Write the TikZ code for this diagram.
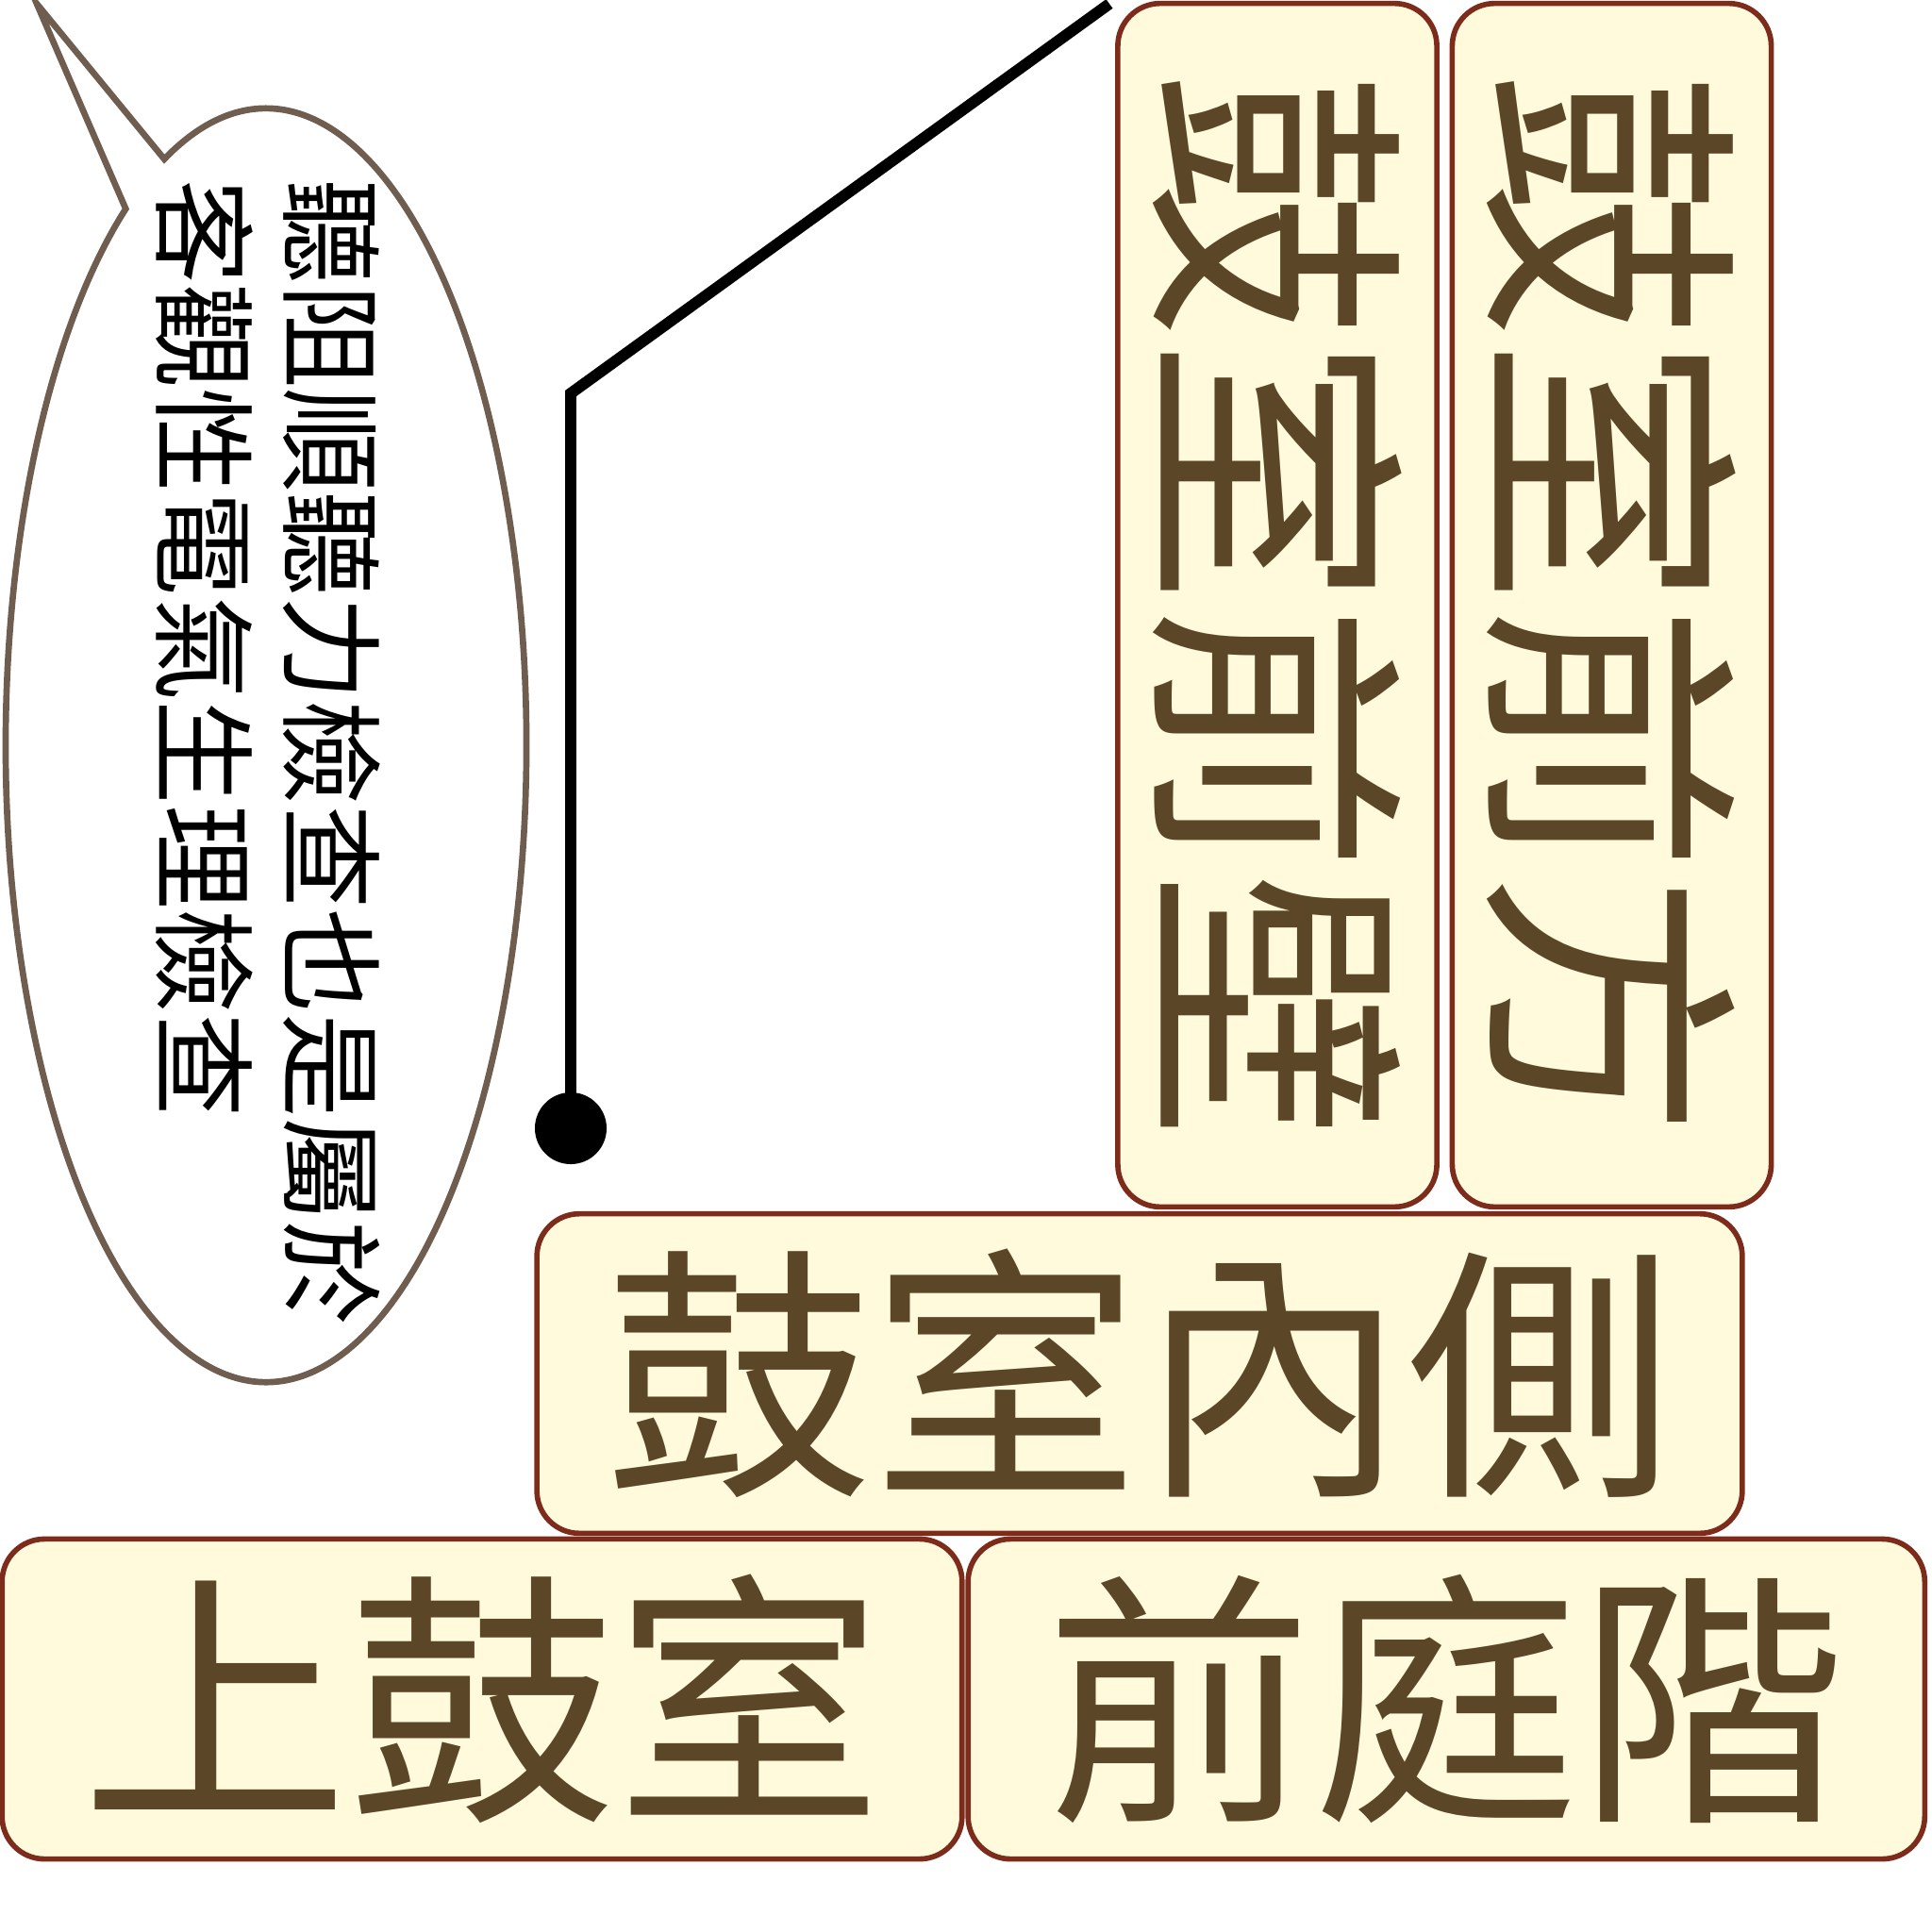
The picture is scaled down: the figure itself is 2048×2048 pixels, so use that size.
\documentclass[tikz,border=0pt]{standalone}
\usepackage{fontspec}
\newfontfamily\cjk{Noto Sans CJK TC}
\definecolor{boxfill}{HTML}{FFFADC}
\definecolor{boxline}{HTML}{7D2B1B}
\definecolor{boxtext}{HTML}{5C4628}
\definecolor{bubline}{HTML}{6F5D50}
\begin{document}
\begin{tikzpicture}[x=0.01cm,y=-0.01cm,
  box/.style={draw=boxline, fill=boxfill, line width=1.6pt, rounded corners=0.45cm,
    inner sep=0pt, text=boxtext, font=\cjk\fontsize{80.5}{81}\selectfont},
  bubtext/.style={rotate=-90, anchor=west, inner sep=0pt, text=black,
    font=\cjk\fontsize{31.4}{38}\selectfont},
  leader/.style={line width=3.4pt, draw=black}
]
\useasboundingbox (0,0) rectangle (2048,2048);

% speech bubble
\coordinate (tip) at (39,4);
\draw[draw=bubline, line width=1.9pt, fill=white]
  (tip) -- ([shift={(282,790)}]-113:276 and 675)
  arc[start angle=-113, end angle=237.4, x radius=276, y radius=675] -- cycle;
\node[bubtext] (bubA) at (352,190) {聽阻順聽力檢查也是屬於};
\node[bubtext] (bubB) at (217,190) {客觀性電氣生理檢查};

% boxes
\node[box, minimum width=10.17cm, minimum height=3.39cm] (upper) at (511,1801) {上鼓室};
\node[box, minimum width=10.135cm, minimum height=3.39cm] (vest) at (1533.25,1801) {前庭階};
\node[box, minimum width=12.77cm, minimum height=3.385cm] (medial) at (1208,1456) {鼓室內側};
\node[box, rotate=-90, minimum width=12.75cm, minimum height=3.38cm] (wall) at (1354,641.5) {鼓室前壁};
\node[box, rotate=-90, minimum width=12.75cm, minimum height=3.38cm] (ant) at (1708.5,641.5) {鼓室前方};

% leader line with dot
\coordinate (lineEnd) at (1176,4);
\node[circle, fill=black, minimum size=0.76cm, inner sep=0pt] (dot) at (605,1196) {};
\coordinate (bend) at (605,417);
\draw[leader] (lineEnd) -- (bend) -- (dot.center);
\end{tikzpicture}
\end{document}
